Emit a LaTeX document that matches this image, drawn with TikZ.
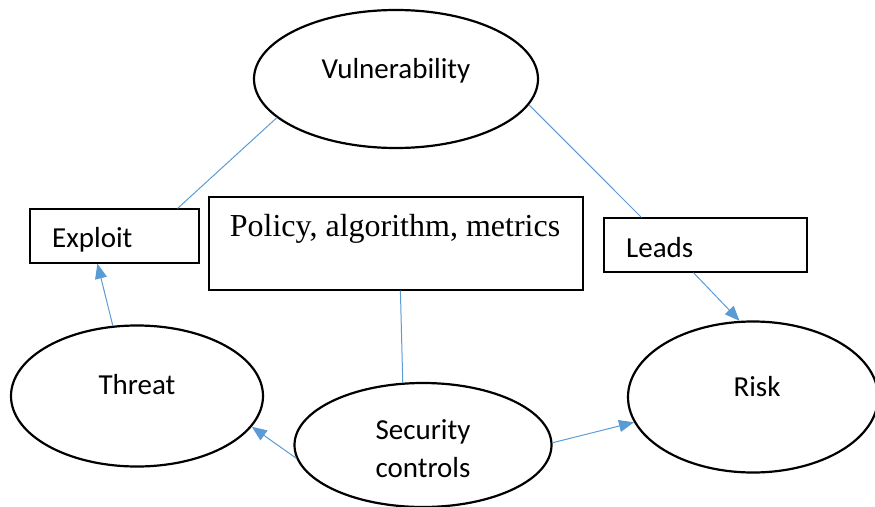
\documentclass[tikz,border=0pt]{standalone}
\usepackage{fontspec}
\setmainfont{Carlito}
\newfontfamily\timesfont{Liberation Serif}
\usetikzlibrary{shapes.geometric,arrows.meta}
\definecolor{linkblue}{HTML}{5B9BD5}
\tikzset{
  oval/.style={ellipse, draw=black, line width=2.2pt, inner sep=0pt},
  box/.style={rectangle, draw=black, line width=1.2pt, inner sep=0pt},
  txt/.style={font=\fontsize{29}{36}\selectfont, inner sep=0pt, anchor=base},
  link/.style={draw=linkblue, line width=1pt},
  arrowlink/.style={link, -{Triangle[length=15pt,width=12pt]}},
}
\begin{document}
\begin{tikzpicture}[x=1pt,y=-1pt]
\useasboundingbox (0,0) rectangle (875,506);

% ellipses
\node[oval, minimum width=284pt, minimum height=138pt] (vul) at (396,79) {};
\node[oval, minimum width=252pt, minimum height=141pt] (thr) at (137,396) {};
\node[oval, minimum width=257pt, minimum height=124pt] (sec) at (423,445) {};
\node[oval, minimum width=250pt, minimum height=151pt] (risk) at (753,397) {};

% boxes
\node[box, minimum width=169pt, minimum height=54pt] (exp) at (114.5,236) {};
\node[box, minimum width=374pt, minimum height=93pt] (pol) at (396,243.5) {};
\node[box, minimum width=203pt, minimum height=54pt] (lead) at (705.5,245) {};

% labels
\node[txt] (tvul) at (396,78) {Vulnerability};
\node[txt] (tthr) at (137,394) {Threat};
\node[txt] (tsec1) at (423,439) {Security};
\node[txt] (tsec2) at (423,477) {controls};
\node[txt] (trisk) at (757,396) {Risk};
\node[txt, anchor=base west] (texp) at (52,247) {Exploit};
\node[txt, anchor=base west] (tlead) at (626,257) {Leads};
\node[txt, font=\timesfont\fontsize{32}{38}\selectfont] (tpol) at (395,236) {Policy, algorithm, metrics};

% connectors
\draw[link] (vul.198) -- ([xshift=-22pt]exp.north east);
\draw[link] (vul.349.6) -- ([xshift=38pt]lead.north west);
\draw[arrowlink] ([xshift=90pt]lead.south west) -- (risk.100);
\draw[arrowlink] (thr.109) -- ([xshift=68pt]exp.south west);
\draw[link] ([xshift=192pt]pol.south west) -- (sec.108);
\draw[arrowlink] (sec.186) -- (thr.345);
\draw[arrowlink] (sec.1) -- (risk.192);
\end{tikzpicture}
\end{document}
